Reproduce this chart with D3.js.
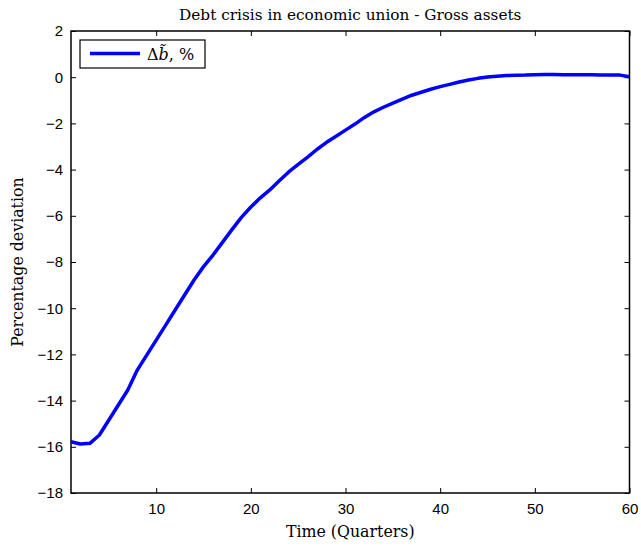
<!DOCTYPE html>
<html>
<head>
<meta charset="utf-8">
<script src="https://cdn.jsdelivr.net/npm/d3@7"></script>
<style>
  body { margin: 0; background: #fff; }
  svg { display: block; }
</style>
</head>
<body>
<svg id="chart" width="641" height="548"></svg>
<script>
// Quarters after the shock
const quarters = d3.range(1, 61);
// Gross assets deviation, percent
const grossAssets = [
  -15.78, -15.88, -15.85, -15.49, -14.84, -14.19, -13.54, -12.68, -12.03, -11.38,
  -10.73, -10.08, -9.43, -8.78, -8.20, -7.70, -7.15, -6.60, -6.07, -5.62,
  -5.22, -4.88, -4.48, -4.10, -3.77, -3.46, -3.12, -2.82, -2.56, -2.29,
  -2.03, -1.74, -1.50, -1.30, -1.12, -0.95, -0.78, -0.65, -0.52, -0.41,
  -0.31, -0.21, -0.12, -0.05, 0.01, 0.04, 0.07, 0.08, 0.09, 0.11,
  0.12, 0.12, 0.11, 0.11, 0.11, 0.11, 0.10, 0.10, 0.09, 0.02
];
const xTicks = [10, 20, 30, 40, 50, 60];
const yTicks = d3.range(-18, 3, 2);

const svg = d3.select("#chart");
const margin = { left: 71, right: 11.5, top: 31, bottom: 55 };
const W = 641, H = 548;
const x = d3.scaleLinear().domain([1, 60]).range([margin.left, W - margin.right]);
const y = d3.scaleLinear().domain([-18, 2]).range([H - margin.bottom, margin.top]);

const sans = "'Liberation Sans', Arial, sans-serif";
const serif = "'DejaVu Serif', 'Liberation Serif', serif";

// Axes with inward ticks
const fmt = d3.format("");
const gx = svg.append("g").attr("transform", `translate(0,${y(-18)})`)
  .call(d3.axisBottom(x).tickValues(xTicks).tickSizeInner(-5).tickSizeOuter(0).tickPadding(10).tickFormat(fmt));
const gxTop = svg.append("g").attr("transform", `translate(0,${y(2)})`)
  .call(d3.axisTop(x).tickValues(xTicks).tickSizeInner(-5).tickSizeOuter(0).tickFormat(""));
const gy = svg.append("g").attr("transform", `translate(${x(1)},0)`)
  .call(d3.axisLeft(y).tickValues(yTicks).tickSizeInner(-5).tickSizeOuter(0).tickPadding(8).tickFormat(fmt));
const gyR = svg.append("g").attr("transform", `translate(${x(60)},0)`)
  .call(d3.axisRight(y).tickValues(yTicks).tickSizeInner(-5).tickSizeOuter(0).tickFormat(""));

[gx, gxTop, gy, gyR].forEach(g => {
  g.select(".domain").remove();
  g.selectAll(".tick line").attr("stroke", "#000").attr("stroke-width", 1);
  g.selectAll(".tick text").attr("font-family", sans).attr("font-size", 15).attr("fill", "#000");
});

// Plot frame
svg.append("rect")
  .attr("x", x(1)).attr("y", y(2))
  .attr("width", x(60) - x(1)).attr("height", y(-18) - y(2))
  .attr("fill", "none").attr("stroke", "#000").attr("stroke-width", 1.5);

// Series line
const line = d3.line().x((d, i) => x(quarters[i])).y(d => y(d));
svg.append("path")
  .datum(grossAssets)
  .attr("d", line)
  .attr("fill", "none")
  .attr("stroke", "#0000ff")
  .attr("stroke-width", 3.5)
  .attr("stroke-linejoin", "round");

// Title and axis labels
svg.append("text")
  .attr("x", (x(1) + x(60)) / 2).attr("y", 20)
  .attr("text-anchor", "middle")
  .attr("font-family", serif).attr("font-size", 15.3)
  .text("Debt crisis in economic union - Gross assets");
svg.append("text")
  .attr("x", (x(1) + x(60)) / 2).attr("y", 537)
  .attr("text-anchor", "middle")
  .attr("font-family", serif).attr("font-size", 15.8)
  .text("Time (Quarters)");
svg.append("text")
  .attr("transform", `translate(23,${(y(2) + y(-18)) / 2}) rotate(-90)`)
  .attr("text-anchor", "middle")
  .attr("font-family", serif).attr("font-size", 15.8)
  .text("Percentage deviation");

// Legend
const lg = svg.append("g");
lg.append("rect")
  .attr("x", 80).attr("y", 40).attr("width", 125).attr("height", 28)
  .attr("fill", "#fff").attr("stroke", "#000").attr("stroke-width", 1.2);
lg.append("line")
  .attr("x1", 90).attr("x2", 140).attr("y1", 53.5).attr("y2", 53.5)
  .attr("stroke", "#0000ff").attr("stroke-width", 3.5);
const lt = lg.append("text")
  .attr("x", 147).attr("y", 60)
  .attr("font-family", serif).attr("font-size", 16);
lt.append("tspan").text("Δ");
lt.append("tspan").attr("font-style", "italic").text("b\u0303");
lt.append("tspan").text(", %");
</script>
</body>
</html>
